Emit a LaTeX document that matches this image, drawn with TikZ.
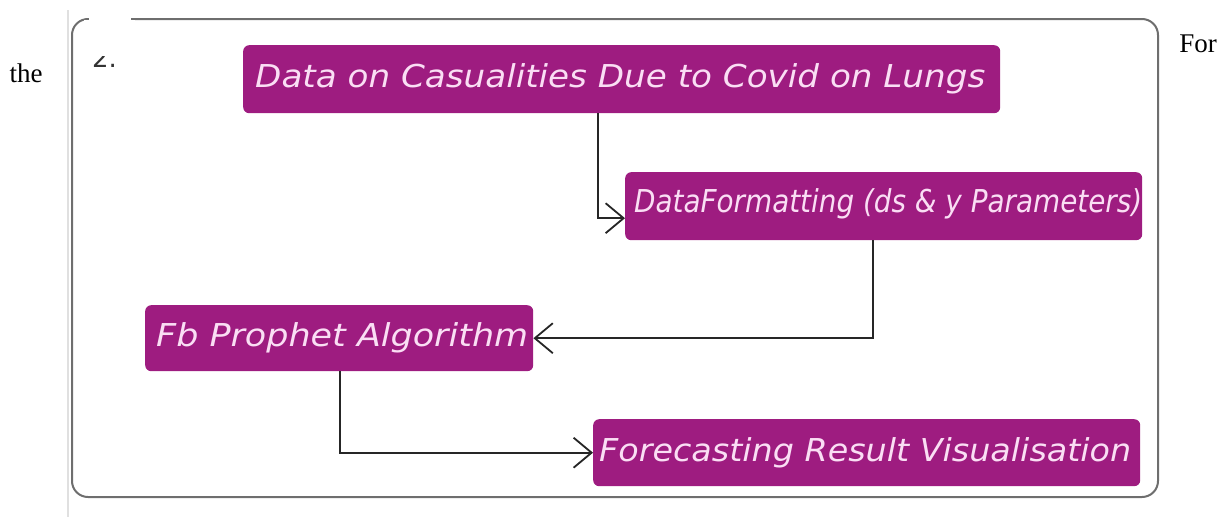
\documentclass[tikz,border=0pt]{standalone}
\usepackage{fontspec}
\setmainfont{Liberation Serif}
\newfontfamily\boxfont{DejaVu Sans}
\usetikzlibrary{arrows.meta,calc}
\definecolor{boxpurple}{RGB}{158,28,128}
\definecolor{boxtext}{RGB}{250,222,244}
\definecolor{framegray}{RGB}{110,110,110}
\tikzset{
  purplebox/.style={fill=boxpurple, rounded corners=6pt, inner sep=0pt, anchor=north west},
  boxlabel/.style={anchor=west, text=boxtext, inner sep=0pt},
  link/.style={draw=black!85, line width=1.8pt, -{Straight Barb[length=18pt,width=30pt]}},
  sidetext/.style={font=\fontsize{27}{27}\selectfont, inner sep=0pt},
}
% stretch/squeeze text horizontally to a given width, keeping cap height ~23pt
\newcommand{\fitw}[2]{\resizebox{#1}{\height}{\boxfont\itshape\fontsize{31.5}{31.5}\selectfont #2}}
\begin{document}
\begin{tikzpicture}[x=1pt,y=-1pt]
\useasboundingbox (0,0) rectangle (1226,517);
% faint left rule
\draw[black!12, line width=1.2pt] (68,10) -- (68,517);
% outer frame
\draw[framegray, line width=2pt, rounded corners=16pt] (89,19) -| (72,497) -| (1158,19) -- (131,19);
% partial "2."
\node[anchor=west, font=\boxfont, text=black!80, inner sep=0pt] (two) at (92,58) {\fontsize{26}{26}\selectfont 2.};
\fill[white] (84,20) rectangle (135,56);
\fill[white] (89,17) rectangle (131,21);
% side texts
\node[sidetext] (the) at (26,73) {the};
\node[sidetext] (for) at (1198,44) {For};
% boxes
\node[purplebox, minimum width=757pt, minimum height=68pt] (b1) at (243,45) {};
\node[boxlabel] (t1) at ($(b1.west)+(12,0)$) {\fitw{730pt}{Data on Casualities Due to Covid on Lungs}};
\node[purplebox, minimum width=517pt, minimum height=68pt] (b2) at (625,172) {};
\node[boxlabel] (t2) at ($(b2.west)+(9,-2)$) {\fitw{508pt}{DataFormatting (ds \& y Parameters)}};
\node[purplebox, minimum width=388pt, minimum height=66pt] (b3) at (145,305) {};
\node[boxlabel] (t3) at ($(b3.west)+(11,0)$) {\fitw{372pt}{Fb Prophet Algorithm}};
\node[purplebox, minimum width=547pt, minimum height=67pt] (b4) at (593,419) {};
\node[boxlabel] (t4) at ($(b4.west)+(6,0)$) {\fitw{532pt}{Forecasting Result Visualisation}};
% connectors
\draw[link] ($(b1.south west)+(355,0)$) |- ($(b2.west)+(0,12)$);
\draw[link] ($(b2.south west)+(248,0)$) |- (b3.east);
\draw[link] ($(b3.south west)+(195,0)$) |- (b4.west);
\end{tikzpicture}
\end{document}
